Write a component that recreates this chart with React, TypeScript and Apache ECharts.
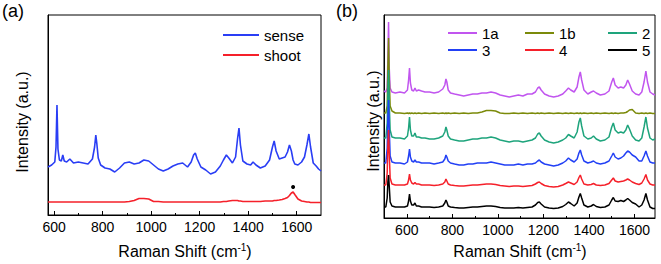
import React, { useEffect, useRef } from 'react';
import * as echarts from 'echarts';

const FONT = '"Liberation Sans", Arial, Helvetica, sans-serif';

// ---------- Panel (a) ----------
const waveA = [575,
  590, 603, 608, 612, 616, 622, 630, 636, 642, 652,
  665, 680, 700, 720, 740, 758, 767, 772, 776, 782,
  792, 810, 830, 850, 870, 890, 910, 930, 950, 970,
  990, 1010, 1030, 1050, 1070, 1090, 1110, 1130, 1150, 1165,
  1175, 1182, 1190, 1205, 1225, 1245, 1265, 1285, 1298, 1310,
  1320, 1335, 1348, 1356, 1362, 1368, 1378, 1395, 1410, 1420,
  1432, 1450, 1470, 1488, 1500, 1507, 1515, 1528, 1540, 1552,
  1562, 1570, 1578, 1585, 1592, 1605, 1620, 1632, 1642, 1650, 1657,
  1668, 1680, 1690, 1700];

const sense = [48,
  50, 53, 68, 110, 66, 55, 54, 60, 54, 53,
  56, 52, 53, 52, 51, 56, 68, 80, 72, 57,
  50, 47, 46, 43, 47, 52, 53, 51, 52, 55,
  54, 50, 46, 44, 46, 49, 51, 52, 48, 53,
  60, 62, 56, 48, 45, 41, 43, 49, 55, 60,
  57, 52, 58, 76, 87, 70, 54, 51, 50, 53,
  50, 47, 49, 55, 68, 74, 64, 56, 57, 58,
  63, 70, 64, 55, 51, 50, 53, 58, 70, 81, 68,
  52, 49, 46, 44];

const shoot = [13,
  13, 13, 13, 13, 13, 13, 13, 13, 13, 13,
  13, 13, 13, 13, 13, 13, 13, 13, 13, 13,
  13, 13, 13, 13, 13, 13, 13.5, 14.5, 16.5, 16.5,
  16, 13.5, 13.5, 13, 13, 13, 13, 13, 13, 13,
  13, 13, 13, 13, 13, 13, 13, 13, 13.5, 13.5,
  14, 14.5, 14.5, 14.5, 14, 14, 13.5, 13.5, 13.5, 13.5,
  13.5, 13.5, 14, 14, 14, 14.5, 14.5, 15, 15.5, 16.5,
  17.5, 19.5, 22, 23, 20.5, 16, 14, 13.5, 13, 13, 12.5,
  12.5, 12.5, 12.5, 12.5];

const starMark = [1585, 28];

// ---------- Panel (b) ----------
const waveB = [500, 508, 514, 517, 520, 523, 527, 535, 550, 570,
  590, 603, 608, 612, 616, 622, 630, 636, 642, 652,
  665, 680, 700, 720, 740, 758, 767, 772, 776, 782,
  792, 810, 830, 850, 870, 890, 910, 930, 950, 970,
  990, 1010, 1030, 1050, 1070, 1090, 1110, 1130, 1150, 1165,
  1175, 1182, 1190, 1205, 1225, 1245, 1265, 1285, 1298, 1310,
  1320, 1335, 1348, 1356, 1362, 1368, 1378, 1395, 1410, 1420,
  1432, 1450, 1470, 1488, 1500, 1507, 1515, 1528, 1540, 1552,
  1562, 1570, 1578, 1590, 1605, 1620, 1632, 1642, 1650, 1657,
  1668, 1680, 1690];

const s1a = [127, 126, 130, 160, 196, 150, 130, 126, 125, 126,
  125, 128, 138, 150, 135, 128, 127, 130, 127, 128,
  127, 126, 126, 125, 126, 129, 133, 139, 136, 128,
  125, 124, 123, 122, 123, 124, 124, 125, 125, 126,
  125, 123, 122, 121, 122, 123, 122, 124, 124, 126,
  130, 131, 128, 124, 122, 121, 122, 124, 127, 130,
  128, 126, 131, 141, 146, 138, 128, 124, 126, 127,
  125, 123, 124, 127, 136, 140, 133, 130, 131, 130,
  133, 138, 134, 127, 124, 123, 126, 136, 147, 136,
  126, 124, 123];

const s1b = [105, 105, 112, 150, 180, 140, 112, 107, 105, 105,
  104.5, 105, 104.5, 105, 104.5, 105, 104.5, 105, 104.5, 105,
  104.5, 105, 104.5, 105, 104.5, 105, 104.5, 105, 104.5, 105,
  104.5, 105, 104.5, 105, 104.5, 105, 105, 106, 107.5, 107.5,
  107, 105, 104.5, 104.5, 105, 104.5, 105, 104.5, 105, 104.5,
  105, 104.5, 105, 104.5, 105, 104.5, 105, 104.5, 105, 104.5,
  105, 104.5, 105, 104.5, 105, 104.5, 105, 104.5, 105, 104.5,
  105, 104.5, 105, 104.5, 105, 104.5, 105, 104.5, 105, 105,
  105.5, 106.5, 108, 108.5, 105, 104.5, 105, 104.5, 105, 104.5,
  105, 104.5, 104.5];

const s2 = [80, 80, 95, 125, 148, 115, 88, 81, 80, 80,
  79, 82, 90, 101, 88, 82, 82, 85, 81, 81,
  80, 80, 79, 79, 80, 82, 86, 91, 88, 82,
  79, 78, 77, 77, 78, 79, 79, 80, 80, 81,
  80, 78, 77, 76, 77, 77, 76, 77, 78, 80,
  84, 85, 82, 78, 76, 75, 76, 78, 80, 83.5,
  82, 80, 86, 96, 100, 92, 82, 79, 80, 82,
  79, 77, 78, 81, 91, 95, 88, 85, 86, 85,
  88, 93, 89, 82, 78, 77, 80, 91, 101, 90,
  80, 78, 79];

const s3 = [55, 55, 70, 100, 118, 90, 62, 56, 55, 55,
  54, 56, 62, 69, 61, 57, 56, 58, 56, 56,
  55, 55, 55, 54, 55, 56, 59, 63, 61, 57,
  55, 54, 53, 53, 54, 54, 55, 55, 55, 56,
  55, 54, 53, 53, 53, 54, 53, 54, 54, 55,
  57, 58, 56, 54, 53, 52, 53, 55, 57, 60,
  58, 56, 59, 65, 68, 63, 57, 55, 56, 57,
  55, 54, 55, 57, 62, 65, 61, 59, 60, 62,
  65, 67, 66, 63, 61, 57, 57, 62, 67, 62,
  56, 55, 55];

const s4 = [33, 33, 45, 72, 88, 65, 40, 34, 33, 33,
  33, 34, 38, 44, 38, 35, 34, 35.5, 34, 34,
  33, 33, 33, 32.5, 33, 34, 36, 39, 37, 34,
  33, 32.5, 32, 32, 32.5, 33, 33, 33.5, 34, 34,
  33.5, 32.5, 32, 31.5, 32, 32, 31.5, 32, 32.5, 34,
  35.5, 36, 34.5, 32.5, 31.5, 31, 31.5, 33, 34.5, 36,
  35, 33.5, 36, 40.5, 43, 39, 34, 33, 33.5, 34.5,
  33, 32.5, 33, 34.5, 38, 40, 37, 36, 36.5, 37,
  38, 39, 38, 36, 34.5, 33.5, 35, 39, 43.5, 38,
  34, 33, 33];

const s5 = [11, 11, 20, 36, 43, 32, 16, 12, 11, 11,
  11, 12, 17, 24, 17, 13, 13, 15, 12, 12,
  11, 11, 11, 10.5, 11, 12, 15, 18, 16, 12,
  11, 10.5, 10, 10, 10.5, 11, 11, 11.5, 12, 12,
  11.5, 10.5, 10, 10, 10, 10.5, 10, 10.5, 11, 13,
  15.5, 16, 14, 11, 10, 9.5, 10, 11.5, 13.5, 16,
  14.5, 12, 15, 21, 24.5, 20, 13, 11, 12, 13.5,
  11.5, 10.5, 11, 13, 18, 20.5, 17, 16.5, 17.5, 16.5,
  18, 19.5, 18, 15.5, 14, 11, 13, 18, 24.5, 18,
  11, 9.5, 9.5];

const majorTicks = [600, 800, 1000, 1200, 1400, 1600];
const minorTicks = [700, 900, 1100, 1300, 1500];

const seriesA = [
  { name: 'sense', color: '#2a3ef5', values: sense },
  { name: 'shoot', color: '#f5202a', values: shoot },
];
const seriesB = [
  { name: '1a', color: '#c155ef', values: s1a },
  { name: '1b', color: '#7b8a0a', values: s1b },
  { name: '2', color: '#1ea47c', values: s2 },
  { name: '3', color: '#2240f5', values: s3 },
  { name: '4', color: '#f5202a', values: s4 },
  { name: '5', color: '#000000', values: s5 },
];

function pairs(x: number[], y: number[]) {
  return x.map((w, i) => [w, y[i]]);
}

export default function App() {
  const ref = useRef<HTMLDivElement>(null);
  useEffect(() => {
    const chart = echarts.init(ref.current!, null, { renderer: 'svg' });

    const mainX = (gridIndex: number, min: number, max: number) => ({
      type: 'value', gridIndex, min, max, position: 'bottom',
      axisLine: { show: true, onZero: false, lineStyle: { color: '#000', width: 1 } },
      axisTick: { show: true, inside: true, length: 4, customValues: majorTicks, lineStyle: { color: '#000', width: 1 } },
      axisLabel: { show: true, customValues: majorTicks, color: '#000', fontSize: 14, fontFamily: FONT, margin: 5, formatter: (v: number) => String(v) },
      splitLine: { show: false },
    });
    const minorX = (gridIndex: number, min: number, max: number) => ({
      type: 'value', gridIndex, min, max, position: 'bottom',
      axisLine: { show: false },
      axisTick: { show: true, inside: true, length: 2, customValues: minorTicks, lineStyle: { color: '#000', width: 1 } },
      axisLabel: { show: false },
      splitLine: { show: false },
    });
    const yAx = (gridIndex: number, max: number) => ({
      type: 'value', gridIndex, min: 0, max,
      axisLine: { show: true, onZero: false, lineStyle: { color: '#000', width: 1 } },
      axisTick: { show: false }, axisLabel: { show: false }, splitLine: { show: false },
    });

    const legendCommon = {
      orient: 'vertical', icon: 'rect', selectedMode: false,
      textStyle: { color: '#000', fontFamily: FONT, fontSize: 15, lineHeight: 16 },
      itemHeight: 2, itemGap: 1, padding: 0,
    };

    const axisTitleRich = {
      sup: { fontSize: 10, fontFamily: FONT, fill: '#000', verticalAlign: 'top', lineHeight: 18 },
    };

    chart.setOption({
      animation: false,
      backgroundColor: '#fff',
      grid: [
        { left: 48, top: 15, width: 273, height: 200, show: true, borderColor: '#000', borderWidth: 1, backgroundColor: 'transparent' },
        { left: 384, top: 15, width: 271, height: 203, show: true, borderColor: '#000', borderWidth: 1, backgroundColor: 'transparent' },
      ],
      xAxis: [mainX(0, 575, 1700), minorX(0, 575, 1700), mainX(1, 500, 1690), minorX(1, 500, 1690)],
      yAxis: [yAx(0, 200), yAx(1, 203)],
      legend: [
        { ...legendCommon, data: ['sense', 'shoot'], left: 223, top: 26, itemWidth: 36, itemGap: 2, textStyle: { ...legendCommon.textStyle, lineHeight: 18 } },
        { ...legendCommon, data: ['1a', '3'], left: 448, top: 25, itemWidth: 29 },
        { ...legendCommon, data: ['1b', '4'], left: 525, top: 25, itemWidth: 29 },
        { ...legendCommon, data: ['2', '5'], left: 608, top: 25, itemWidth: 29 },
      ],
      graphic: [
        { type: 'text', left: 2, top: 2, style: { text: '(a)', fontSize: 18, fontFamily: FONT, fill: '#000' } },
        { type: 'text', left: 336, top: 2, style: { text: '(b)', fontSize: 18, fontFamily: FONT, fill: '#000' } },
        { type: 'text', x: 22, y: 122, rotation: Math.PI / 2, style: { text: 'Intensity (a.u.)', fontSize: 16, fontFamily: FONT, fill: '#000', align: 'center', verticalAlign: 'middle' } },
        { type: 'text', x: 373, y: 121, rotation: Math.PI / 2, style: { text: 'Intensity (a.u.)', fontSize: 16, fontFamily: FONT, fill: '#000', align: 'center', verticalAlign: 'middle' } },
        { type: 'text', x: 185, y: 251, style: { text: 'Raman Shift (cm{sup|-1})', rich: axisTitleRich, fontSize: 16, fontFamily: FONT, fill: '#000', align: 'center', verticalAlign: 'middle', lineHeight: 18 } },
        { type: 'text', x: 520, y: 251, style: { text: 'Raman Shift (cm{sup|-1})', rich: axisTitleRich, fontSize: 16, fontFamily: FONT, fill: '#000', align: 'center', verticalAlign: 'middle', lineHeight: 18 } },
      ],
      series: [
        ...seriesA.map((s, i) => ({
          type: 'line', name: s.name, xAxisIndex: 0, yAxisIndex: 0,
          data: pairs(waveA, s.values), symbol: 'none', showSymbol: false,
          lineStyle: { color: s.color, width: 1.6 }, itemStyle: { color: s.color },
          markPoint: i === 1 ? {
            symbol: 'circle', symbolSize: 4, itemStyle: { color: '#000' }, label: { show: false },
            data: [{ coord: starMark }],
          } : undefined,
        })),
        ...seriesB.map((s) => ({
          type: 'line', name: s.name, xAxisIndex: 2, yAxisIndex: 1,
          data: pairs(waveB, s.values), symbol: 'none', showSymbol: false,
          lineStyle: { color: s.color, width: 1.5 }, itemStyle: { color: s.color },
        })),
      ],
    });
    return () => chart.dispose();
  }, []);
  return <div ref={ref} style={{ position: 'fixed', left: 0, top: 0, width: 661, height: 264 }} />;
}
